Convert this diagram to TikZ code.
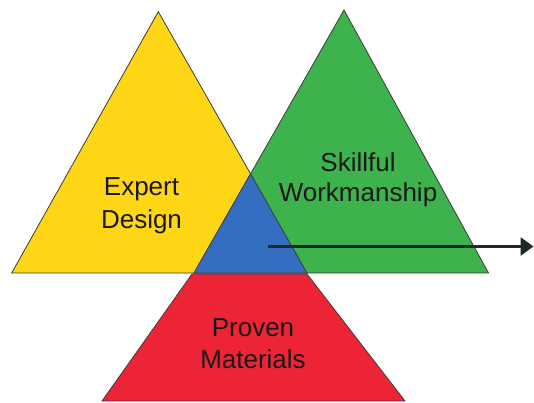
\documentclass[tikz,border=0pt]{standalone}
\usepackage{fontspec}
\setmainfont{Liberation Sans}
\usetikzlibrary{arrows.meta,calc}
\definecolor{cyellow}{RGB}{254,214,22}
\definecolor{cgreen}{RGB}{62,178,76}
\definecolor{cblue}{RGB}{52,110,192}
\definecolor{cred}{RGB}{236,36,54}
\definecolor{cline}{RGB}{60,60,60}
\definecolor{carrow}{RGB}{30,42,42}
\begin{document}
\begin{tikzpicture}[x=1pt,y=-1pt,
  tri/.style={draw=cline,line width=0.8pt,line join=miter},
  lbl/.style={inner sep=0pt,align=center,text=black!90},
  arr/.style={draw=carrow,line width=2.8pt,-{Triangle[length=13pt,width=18pt]}}]
\useasboundingbox (0,0) rectangle (534,402);
\fill[white] (0,0) rectangle (534,402);
% corner coordinates
\coordinate (y1) at (158.3,11.7);
\coordinate (y2) at (11.7,273);
\coordinate (y3) at (307,273);
\coordinate (g1) at (344,10);
\coordinate (g2) at (194,273);
\coordinate (g3) at (488.5,273);
\coordinate (r1) at (192,274);
\coordinate (r2) at (307,274);
\coordinate (r3) at (405,401);
\coordinate (r4) at (102,401);
% triangles
\filldraw[tri,fill=cyellow] (y1) -- (y2) -- (y3) -- cycle;
\filldraw[tri,fill=cgreen] (g1) -- (g2) -- (g3) -- cycle;
\coordinate (b1) at (intersection of y1--y3 and g1--g2);
\filldraw[tri,fill=cblue] (b1) -- (g2) -- (y3) -- cycle;
\filldraw[tri,fill=cred] (r1) -- (r2) -- (r3) -- (r4) -- cycle;
% arrow
\coordinate (a1) at (268,246.5);
\coordinate (a2) at (533.5,246.5);
\draw[arr] (a1) -- (a2);
% labels
\node[lbl,anchor=base,font={\fontsize{26}{33}\selectfont}] (ed) at (141.5,228.3) {Expert\\Design};
\node[lbl,anchor=base,font={\fontsize{26}{30}\selectfont}] (sw) at (358,201.7) {Skillful\\Workmanship};
\node[lbl,anchor=base,font={\fontsize{26}{32.3}\selectfont}] (pm) at (253,368.3) {Proven\\Materials};
\end{tikzpicture}
\end{document}
